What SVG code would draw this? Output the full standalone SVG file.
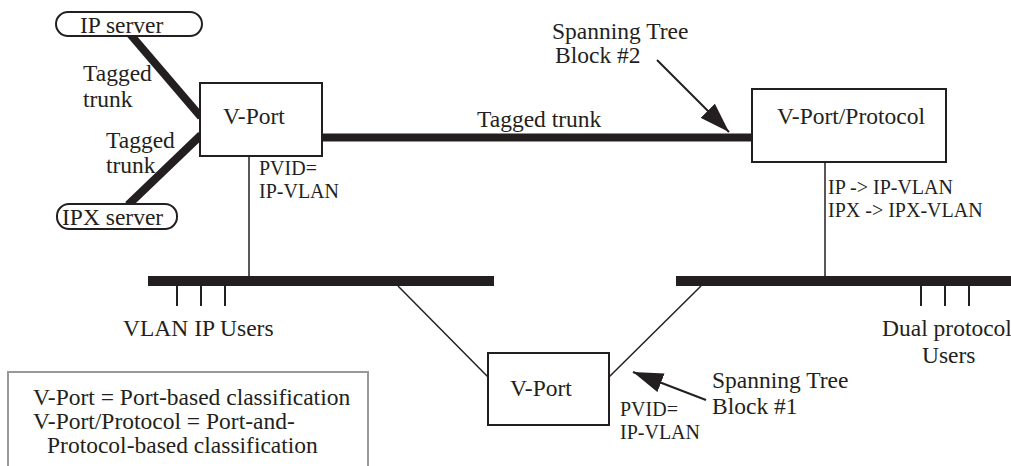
<svg xmlns="http://www.w3.org/2000/svg" width="1011" height="466" viewBox="0 0 1011 466">
<style>
text{font-family:"Liberation Serif","Times New Roman",serif;fill:#231f20;font-size:23.5px}
.s{font-size:20px}
.box{fill:#fff;stroke:#231f20;stroke-width:2}
.thick{stroke:#231f20;stroke-width:8;fill:none}
.thin{stroke:#231f20;stroke-width:1.5;fill:none}
.tick{stroke:#231f20;stroke-width:2}
.bus{fill:#231f20}
.arr{stroke:#231f20;stroke-width:2;fill:none}
</style>
<defs>
<marker id="ah" viewBox="0 0 30 20" refX="30" refY="10" markerWidth="30" markerHeight="20" markerUnits="userSpaceOnUse" orient="auto">
<path d="M0,0 L30,10 L0,20 z" fill="#231f20"/>
</marker>
</defs>
<rect width="1011" height="466" fill="#fff"/>
<g id="connectors">
<line class="thick" x1="130" y1="34" x2="201" y2="117"/>
<line class="thick" x1="128" y1="205" x2="201" y2="135"/>
<line class="thick" x1="322" y1="137.5" x2="752" y2="137.5"/>
<line class="thin" x1="249" y1="156" x2="249" y2="277"/>
<line class="thin" x1="825" y1="162" x2="825" y2="277"/>
<rect class="bus" x="148" y="276" width="346" height="10"/>
<rect class="bus" x="676" y="276" width="335" height="10"/>
<line class="tick" x1="177" y1="286" x2="177" y2="306"/>
<line class="tick" x1="201" y1="286" x2="201" y2="306"/>
<line class="tick" x1="225" y1="286" x2="225" y2="306"/>
<line class="tick" x1="921" y1="286" x2="921" y2="306"/>
<line class="tick" x1="945" y1="286" x2="945" y2="306"/>
<line class="tick" x1="969" y1="286" x2="969" y2="306"/>
<line class="thin" x1="398" y1="286" x2="488" y2="377"/>
<line class="thin" x1="701" y1="286" x2="609" y2="377"/>
<line class="arr" x1="657" y1="60" x2="729" y2="132" marker-end="url(#ah)"/>
<line class="arr" x1="706" y1="400" x2="633" y2="372" marker-end="url(#ah)"/>
</g>
<g id="ip-server">
<rect class="box" x="56" y="12" width="146" height="24" rx="12"/>
<text x="80" y="33">IP server</text>
</g>
<g id="ipx-server">
<rect class="box" x="57" y="204" width="120" height="25" rx="12"/>
<text x="62" y="225">IPX server</text>
</g>
<g id="vport-left">
<rect class="box" x="200" y="83" width="122" height="73"/>
<text x="223" y="124">V-Port</text>
</g>
<g id="vport-protocol">
<rect class="box" x="752" y="89" width="194" height="73"/>
<text x="777" y="124">V-Port/Protocol</text>
</g>
<g id="vport-bottom">
<rect class="box" x="488" y="353" width="121" height="72"/>
<text x="510" y="396">V-Port</text>
</g>
<g id="labels">
<text x="83" y="81">Tagged</text>
<text x="83" y="107">trunk</text>
<text x="106" y="148">Tagged</text>
<text x="106" y="173">trunk</text>
<text x="477" y="127">Tagged trunk</text>
<text x="552" y="39">Spanning Tree</text>
<text x="555" y="63">Block #2</text>
<text class="s" x="259" y="175">PVID=</text>
<text class="s" x="259" y="198">IP-VLAN</text>
<text class="s" x="828" y="194">IP -&gt; IP-VLAN</text>
<text class="s" x="828" y="217">IPX -&gt; IPX-VLAN</text>
<text x="123" y="336">VLAN IP Users</text>
<text x="882" y="336">Dual protocol</text>
<text x="922" y="363">Users</text>
<text x="712" y="388">Spanning Tree</text>
<text x="712" y="414">Block #1</text>
<text class="s" x="620" y="416">PVID=</text>
<text class="s" x="620" y="439">IP-VLAN</text>
</g>
<g id="legend">
<rect x="8" y="372" width="360" height="100" fill="#fff" stroke="#999" stroke-width="2"/>
<text x="33" y="405">V-Port = Port-based classification</text>
<text x="33" y="429">V-Port/Protocol = Port-and-</text>
<text x="47" y="453">Protocol-based classification</text>
</g>
</svg>
